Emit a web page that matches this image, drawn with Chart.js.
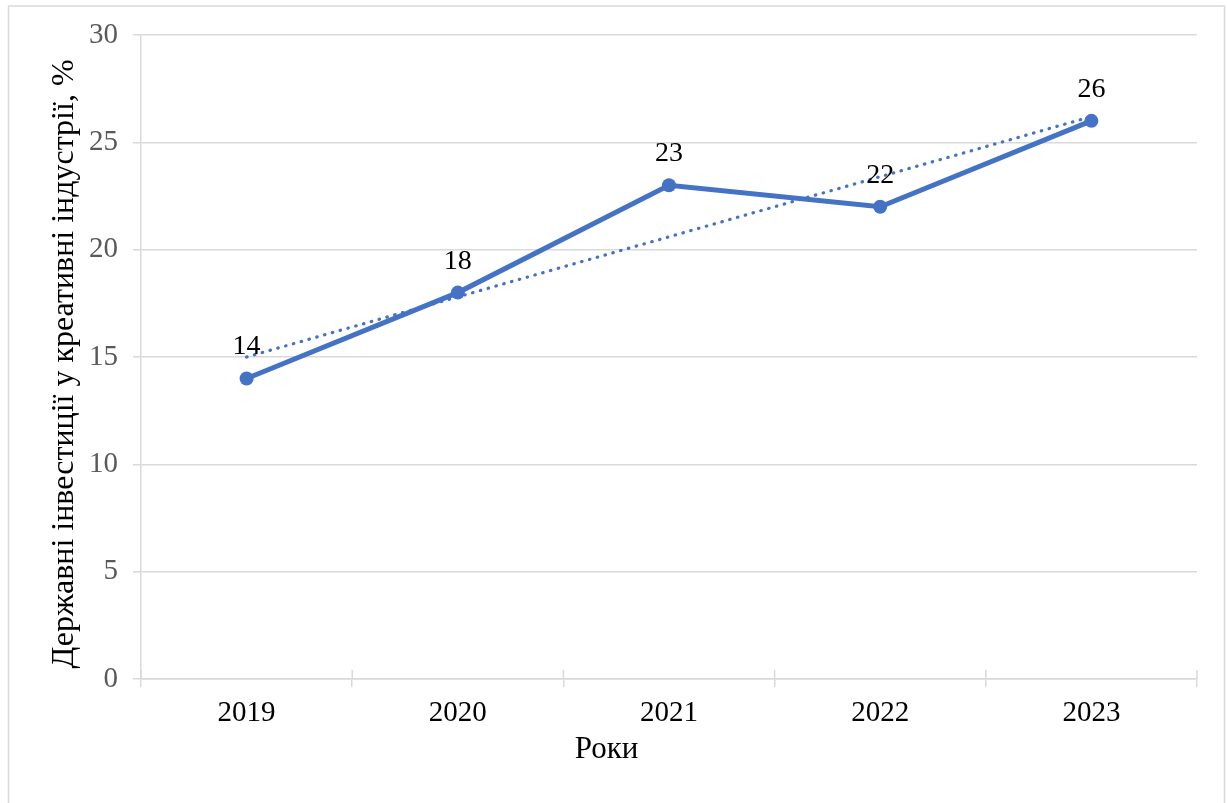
<!DOCTYPE html>
<html>
<head>
<meta charset="utf-8">
<script src="https://cdn.jsdelivr.net/npm/chart.js@4"></script>
<style>
  html, body { margin: 0; padding: 0; background: #fff; }
  #wrap { width: 1227px; height: 803px; position: relative; }
</style>
</head>
<body>
<div id="wrap"><canvas id="chart"></canvas></div>
<script>
const years = ['2019', '2020', '2021', '2022', '2023']
const investments = [14, 18, 23, 22, 26]
// dotted linear trend line
const trendValues = [15.0, 17.8, 20.6, 23.4, 26.2]
const yTicks = [0, 5, 10, 15, 20, 25, 30]
const xTitle = 'Роки'
const yTitle = 'Державні інвестиції у креативні індустрії, %'

const blue = '#4472C4'
const gridGray = '#d9d9d9'
const serif = "'Liberation Serif', 'Times New Roman', serif"

Chart.defaults.font.family = serif

// outer frame of the chart object
const framePlugin = {
  id: 'frame',
  beforeDraw(chart) {
    const { ctx } = chart
    ctx.save()
    ctx.strokeStyle = gridGray
    ctx.lineWidth = 1.5
    ctx.strokeRect(8.5, 6, chart.width - 11, chart.height + 10)
    ctx.restore()
  },
}

// small category marks that cross the x axis, like Excel's
const crossTicks = {
  id: 'crossTicks',
  afterDraw(chart) {
    const { ctx } = chart
    const x = chart.scales.x
    const bottom = chart.chartArea.bottom
    ctx.save()
    ctx.strokeStyle = gridGray
    ctx.lineWidth = 1.5
    for (let i = 0; i <= years.length; i++) {
      const px = x.getPixelForValue(i - 0.5)
      ctx.beginPath()
      ctx.moveTo(px, bottom - 9)
      ctx.lineTo(px, bottom)
      ctx.stroke()
    }
    ctx.restore()
  },
}

// axis titles are centred on the whole chart object in the original, not the plot
const axisTitles = {
  id: 'axisTitles',
  afterDraw(chart) {
    const { ctx } = chart
    ctx.save()
    ctx.fillStyle = '#000'
    ctx.textAlign = 'center'
    ctx.font = '31px ' + serif
    ctx.textBaseline = 'alphabetic'
    ctx.fillText(xTitle, chart.width / 2 - 7, 758)
    ctx.font = '32px ' + serif
    ctx.textBaseline = 'middle'
    ctx.translate(65, 364)
    ctx.rotate(-Math.PI / 2)
    ctx.fillText(yTitle, 0, 0)
    ctx.restore()
  },
}

const valueLabels = {
  id: 'valueLabels',
  afterDatasetsDraw(chart) {
    const { ctx } = chart
    const meta = chart.getDatasetMeta(0)
    ctx.save()
    ctx.font = '28px ' + serif
    ctx.fillStyle = '#000'
    ctx.textAlign = 'center'
    ctx.textBaseline = 'alphabetic'
    meta.data.forEach((pt, i) => {
      ctx.fillText(String(investments[i]), pt.x, pt.y - 24)
    })
    ctx.restore()
  },
}

new Chart(document.getElementById('chart'), {
  type: 'line',
  data: {
    labels: years,
    datasets: [
      {
        label: 'Державні інвестиції',
        data: investments,
        borderColor: blue,
        backgroundColor: blue,
        borderWidth: 5,
        pointRadius: 7,
        pointHoverRadius: 7,
        pointBackgroundColor: blue,
        pointBorderWidth: 0,
        tension: 0,
        order: 2,
      },
      {
        label: 'Лінійна тенденція',
        data: trendValues,
        borderColor: blue,
        borderWidth: 3.2,
        borderDash: [0.5, 7.6],
        borderCapStyle: 'round',
        pointRadius: 0,
        tension: 0,
        fill: false,
        order: 1,
      },
    ],
  },
  options: {
    responsive: true,
    maintainAspectRatio: false,
    animation: false,
    layout: {
      padding: { top: 35, right: 30, bottom: 0, left: 0 },
    },
    plugins: {
      legend: { display: false },
      tooltip: { enabled: false },
    },
    scales: {
      x: {
        type: 'category',
        offset: true,
        grid: {
          offset: true,
          drawOnChartArea: false,
          color: gridGray,
          lineWidth: 1.5,
          tickLength: 8,
        },
        border: { color: gridGray, width: 1.5 },
        ticks: {
          color: '#000',
          font: { size: 29 },
          padding: 9,
        },
        afterFit(scale) {
          scale.height = 124
        },
      },
      y: {
        min: 0,
        max: 30,
        afterBuildTicks(scale) {
          scale.ticks = yTicks.map((v) => ({ value: v }))
        },
        grid: {
          color: gridGray,
          lineWidth: 1.5,
          tickLength: 8,
        },
        border: { color: gridGray, width: 1.5 },
        ticks: {
          color: '#595959',
          font: { size: 29 },
          padding: 15,
        },
        afterFit(scale) {
          scale.width = 141
        },
      },
    },
  },
  plugins: [framePlugin, crossTicks, axisTitles, valueLabels],
})
</script>
</body>
</html>
